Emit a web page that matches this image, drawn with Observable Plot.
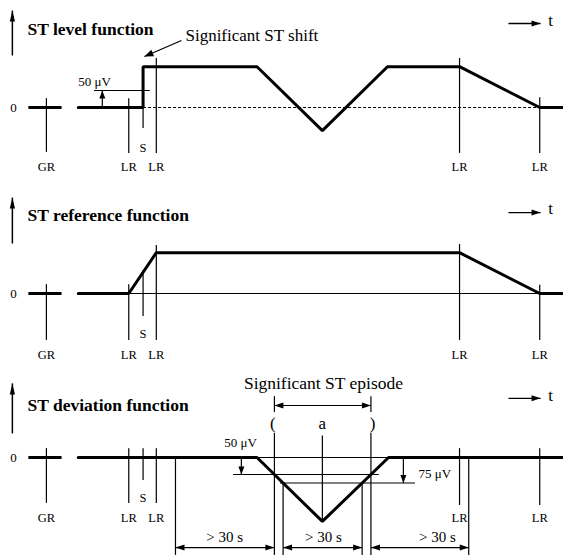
<!DOCTYPE html>
<html><head><meta charset="utf-8">
<script src="https://cdn.jsdelivr.net/npm/d3@7"></script>
<script src="https://cdn.jsdelivr.net/npm/@observablehq/plot@0.6"></script>
<style>
html,body{margin:0;padding:0;background:#fff;overflow:hidden;}
#chart{width:563px;height:557px;overflow:hidden;}
#chart svg{display:block;}
</style></head><body><div id="chart"></div>
<script>
// ---------------- data (time in arbitrary units, level in µV) ----------------
const panelTitles = ["ST level function", "ST reference function", "ST deviation function"];
const markerLabels = ["GR", "LR", "S", "LR", "LR", "LR"];
const markerTimes = [0, 30.5, 35.8, 40.7, 153, 182.7];
const levelTimes = [11.8, 35.8, 35.8, 78, 102.2, 126.3, 153, 182.7, 191.5];
const levelValues = [0, 0, 120, 120, -68, 120, 120, 0, 0];
const referenceTimes = [11.8, 30.5, 40.7, 153, 182.7, 191.5];
const referenceValues = [0, 0, 120, 120, 0, 0];
const deviationTimes = [11.8, 78, 102.2, 126.7, 191.5];
const deviationValues = [0, 0, -188, 0, 0];
const grSegment = [-6.5, 5.8];
const thresholds = [50, 75];
const thresholdLabels = ["50 \u03bcV", "75 \u03bcV"];
const durationLabel = "> 30 s";
const durationStart = 47.8;
const durationEnd = 156.4;
const episodeLabel = "Significant ST episode";
const shiftLabel = "Significant ST shift";
const markerTops = [[26, 26, 120, 144, 144, 29], [26, 26, 68, 141, 144, 24], [26, 26, 26, 26, 26, 26]];
const markerBottoms = [[-132, -135, -62, -135, -135, -135], [-138, -138, -68, -138, -138, -138], [-135, -135, -68, -135, -141, -141]];

// ---------------- layout ----------------
const W = 563;
const heights = [180, 185, 192];
const zeroOffsets = [107, 113, 92];
const K = 0.34;               // px per µV
const xDomain = [-17, 191.5];
const KX = W / (xDomain[1] - xDomain[0]);
const serif = "'Liberation Serif', 'Times New Roman', serif";

function headSymbol(angle, len = 9, half = 3) {
  const a = angle * Math.PI / 180, ux = Math.cos(a), uy = Math.sin(a);
  return {draw(ctx) {
    ctx.moveTo(0, 0);
    ctx.lineTo(-len * ux - half * uy, -len * uy + half * ux);
    ctx.lineTo(-len * ux + half * uy, -len * uy - half * ux);
    ctx.closePath();
  }};
}
function label(s, t, v, o = {}) {
  return Plot.text([{t, v, s}], {x: "t", y: "v", text: "s", fontFamily: serif,
    fontSize: o.size ?? 12, fontWeight: o.weight ?? "normal", textAnchor: o.anchor ?? "middle", fill: "black"});
}
function seg(t1, v1, t2, v2, sw = 1.2, dash) {
  return Plot.link([{t1, v1, t2, v2}], {x1: "t1", y1: "v1", x2: "t2", y2: "v2", stroke: "black",
    strokeWidth: sw, strokeDasharray: dash});
}
function head(t, v, angle, len = 9, half = 3) {
  return Plot.dot([{t, v}], {x: "t", y: "v", r: 4, symbol: headSymbol(angle, len, half), fill: "black", stroke: "none"});
}
function arrow(t1, v1, t2, v2, len = 9, half = 3, sw = 1.2) {
  const ang = Math.atan2(-(v2 - v1) * K, (t2 - t1) * KX) * 180 / Math.PI;
  return [seg(t1, v1, t2, v2, sw), head(t2, v2, ang, len, half)];
}
function crossings(times, values, level) {
  const out = [];
  for (let j = 0; j < times.length - 1; j++) {
    const v0 = values[j], v1 = values[j + 1];
    if ((v0 - level) * (v1 - level) < 0) out.push(times[j] + (times[j + 1] - times[j]) * (level - v0) / (v1 - v0));
  }
  return out;
}
function series(ts, vs) { return ts.map((t, j) => ({t, v: vs[j]})); }

const labelLevels = [[-176, -118], [-182, -118], [-179, -118]];
const titleLevels = [229, 229, 153];
const axisArrows = [[153, 285], [147, 282], [71, 218]];
const tArrows = [[247, 256], [238, 250], [174, 182]];

function common(i) {
  const markers = markerTimes.map((t, j) => ({t, top: markerTops[i][j], bottom: markerBottoms[i][j],
    label: markerLabels[j], ly: markerLabels[j] === "S" ? labelLevels[i][1] : labelLevels[i][0]}));
  return [
    label(panelTitles[i], -7, titleLevels[i], {size: 17.5, weight: "bold", anchor: "start"}),
    ...arrow(-12.6, axisArrows[i][0], -12.6, axisArrows[i][1], 11, 2.6, 1.5),
    label("0", -12.2, 0, {size: 13}),
    ...arrow(171.1, tArrows[i][0], 183, tArrows[i][0], 9, 3, 1.3),
    label("t", 186.7, tArrows[i][1], {size: 17}),
    Plot.ruleY([0], {x1: grSegment[0], x2: grSegment[1], stroke: "black", strokeWidth: 3}),
    Plot.ruleX(markers, {x: "t", y1: "top", y2: "bottom", stroke: "black", strokeWidth: 1.2}),
    Plot.text(markers, {x: "t", y: "ly", text: "label", fontFamily: serif, fontSize: 12.5, fill: "black"})
  ];
}

function panel(i, marks) {
  const h = heights[i], z = zeroOffsets[i];
  return Plot.plot({
    width: W, height: h, marginTop: 0, marginRight: 0, marginBottom: 0, marginLeft: 0,
    x: {domain: xDomain, range: [0, W], axis: null},
    y: {domain: [-(h - z) / K, z / K], range: [h, 0], axis: null},
    style: {background: "white", overflow: "visible"},
    marks
  });
}

const thick = {x: "t", y: "v", stroke: "black", strokeWidth: 3, strokeLinejoin: "miter"};

// Panel 1: ST level function
const p1 = panel(0, [
  seg(markerTimes[2], 0, markerTimes[5], 0, 1, "3,2"),
  ...common(0),
  Plot.ruleY([thresholds[0]], {x1: 17.8, x2: 38.5, stroke: "black", strokeWidth: 1.2}),
  ...arrow(20.7, 0, 20.7, thresholds[0], 8, 3),
  label(thresholdLabels[0], 11.8, 76, {size: 13, anchor: "start"}),
  Plot.line(series(levelTimes, levelValues), thick),
  label(shiftLabel, 51.5, 212, {size: 17, anchor: "start"}),
  ...arrow(50, 197, 36.3, 150, 9, 3.5, 1.3)
]);

// Panel 2: ST reference function
const p2 = panel(1, [
  seg(markerTimes[1], 0, markerTimes[5], 0, 1),
  ...common(1),
  Plot.line(series(referenceTimes, referenceValues), thick)
]);

// Panel 3: ST deviation function
const c50 = crossings(deviationTimes, deviationValues, -thresholds[0]);
const c75 = crossings(deviationTimes, deviationValues, -thresholds[1]);
const vBottom = deviationTimes[deviationValues.indexOf(d3.min(deviationValues))];
const dimV = -265, dimLow = -288;
function dim(a, b, v) {
  return [seg(a, v, b, v, 1.2), head(a, v, 180, 9, 3), head(b, v, 0, 9, 3)];
}
const p3 = panel(2, [
  seg(11.8, 0, 191.5, 0, 1),
  ...common(2),
  Plot.ruleY([-thresholds[0]], {x1: 69.3, x2: 123.3, stroke: "black", strokeWidth: 1.2}),
  Plot.ruleY([-thresholds[1]], {x1: 86.7, x2: 136.7, stroke: "black", strokeWidth: 1.2}),
  ...arrow(72.2, 0, 72.2, -thresholds[0], 8, 3),
  ...arrow(132.2, 0, 132.2, -thresholds[1], 8, 3),
  label(thresholdLabels[0], 71.9, 44, {size: 13}),
  label(thresholdLabels[1], 137.8, -47, {size: 13, anchor: "start"}),
  Plot.ruleX(c50, {x: d => d, y1: 71, y2: dimLow, stroke: "black", strokeWidth: 1.2}),
  Plot.ruleX(c75, {x: d => d, y1: -thresholds[1], y2: dimLow, stroke: "black", strokeWidth: 1.2}),
  Plot.ruleX([durationStart, durationEnd], {x: d => d, y1: 0, y2: dimLow, stroke: "black", strokeWidth: 1.2}),
  seg(vBottom, 65, vBottom, -188, 1.2),
  Plot.line(series(deviationTimes, deviationValues), thick),
  ...dim(durationStart, c50[0], dimV),
  ...dim(c75[0], c75[1], dimV),
  ...dim(c50[1], durationEnd, dimV),
  label(durationLabel, 66, -235, {size: 15}),
  label(durationLabel, 102.6, -235, {size: 15}),
  label(durationLabel, 144.8, -235, {size: 15}),
  ...dim(c50[0], c50[1], 153),
  Plot.ruleX(c50, {x: d => d, y1: 132, y2: 179, stroke: "black", strokeWidth: 1.2}),
  label("(", c50[0] - 0.6, 100, {size: 17}),
  label(")", c50[1] + 0.6, 100, {size: 17}),
  label("a", vBottom, 100, {size: 17}),
  label(episodeLabel, 102.6, 218, {size: 17.5})
]);

const chart = document.getElementById("chart");
chart.append(p1, p2, p3);
</script></body></html>
